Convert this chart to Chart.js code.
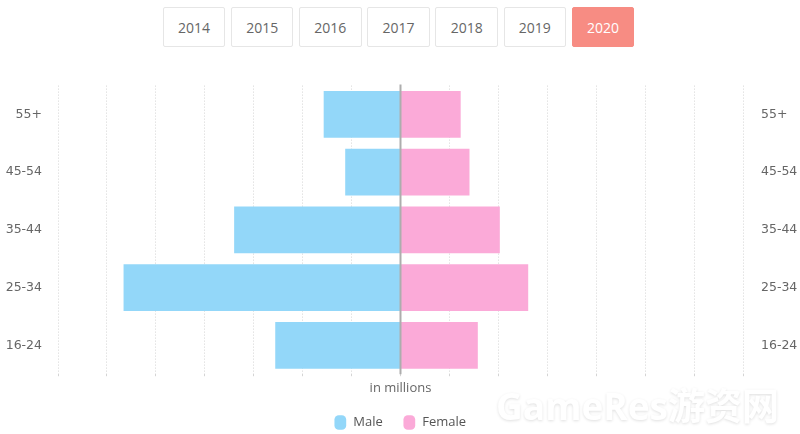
<!DOCTYPE html>
<html>
<head>
<meta charset="utf-8">
<script src="https://cdn.jsdelivr.net/npm/chart.js@4"></script>
<style>
  html, body { margin: 0; padding: 0; background: #fff; }
  #wrap { position: relative; width: 800px; height: 434px; overflow: hidden; }
  #chart { position: absolute; left: 0; top: 0; }
  .year {
    position: absolute; top: 6.7px; width: 60.6px; height: 38.6px;
    text-align: center; font: 14px/40px "Open Sans", sans-serif; color: #666;
    background: #fff; border: 1px solid #e6e6e6; border-radius: 2px;
  }
  .year.active { background: #f78c83; border-color: #f78c83; color: #fff; }
  #mark {
    position: absolute; left: 496px; top: 377px; font: bold 37px "Open Sans", "Noto Sans CJK SC", sans-serif;
    color: #fff; text-shadow: 0 1px 3px rgba(0,0,0,0.13); white-space: nowrap;
  }
</style>
</head>
<body>
<div id="wrap">
  <div id="years"></div>
  <canvas id="chart" width="800" height="434"></canvas>
  <div id="mark">GameRes游资网</div>
</div>
<script>
const years = ['2014', '2015', '2016', '2017', '2018', '2019', '2020'];
const ageGroups = ['55+', '45-54', '35-44', '25-34', '16-24'];
const male = [-1.57, -1.13, -3.4, -5.66, -2.56];
const female = [1.23, 1.41, 2.03, 2.61, 1.58];

const yearsBox = document.getElementById('years');
years.forEach((year, i) => {
  const el = document.createElement('div');
  el.className = 'year' + (year === '2020' ? ' active' : '');
  el.style.left = (162.7 + i * 68.17) + 'px';
  el.textContent = year;
  yearsBox.appendChild(el);
});

// grey line on the zero value, on top of the bars
const zeroLine = {
  id: 'zeroLine',
  afterDatasetsDraw(chart) {
    const { ctx, chartArea, scales } = chart;
    const x = scales.x.getPixelForValue(0);
    ctx.save();
    ctx.strokeStyle = '#adadad';
    ctx.lineWidth = 2;
    ctx.beginPath();
    ctx.moveTo(x, chartArea.top - 1);
    ctx.lineTo(x, chartArea.bottom);
    ctx.stroke();
    ctx.restore();
  }
};

const labelFont = { family: 'DejaVu Sans', size: 12.5 };

new Chart(document.getElementById('chart'), {
  type: 'bar',
  plugins: [zeroLine],
  data: {
    labels: ageGroups,
    datasets: [
      { label: 'Male', data: male, backgroundColor: '#93d7f9', yAxisID: 'y' },
      { label: 'Female', data: female, backgroundColor: '#fbaad8', yAxisID: 'y' }
    ]
  },
  options: {
    indexAxis: 'y',
    responsive: false,
    animation: false,
    barPercentage: 0.81,
    categoryPercentage: 1,
    layout: { padding: { top: 85.6, bottom: -5 } },
    plugins: {
      tooltip: { enabled: false },
      legend: {
        position: 'bottom',
        labels: {
          usePointStyle: true,
          pointStyle: 'rectRounded',
          pointStyleWidth: 13,
          boxHeight: 12,
          padding: 20,
          color: '#555',
          font: { family: 'Open Sans', size: 13 }
        }
      }
    },
    scales: {
      x: {
        min: -7,
        max: 7,
        stacked: true,
        afterFit(scale) { scale.height = 21.8; },
        ticks: { display: false, stepSize: 1 },
        border: { display: false, dash: [1, 2] },
        grid: { color: '#d4d4d4', tickLength: 2 },
        title: { display: true, text: 'in millions', color: '#666', font: { family: 'Open Sans', size: 13 }, padding: 0 }
      },
      y: {
        stacked: true,
        position: 'left',
        afterFit(scale) { scale.width = 58; },
        grid: { display: false },
        border: { display: false },
        ticks: { color: '#666', font: labelFont, padding: 8 }
      },
      y2: {
        type: 'category',
        labels: ageGroups,
        position: 'right',
        afterFit(scale) { scale.width = 57; },
        grid: { display: false },
        border: { display: false },
        ticks: { color: '#666', font: labelFont, padding: 10 }
      }
    }
  }
});
</script>
</body>
</html>
